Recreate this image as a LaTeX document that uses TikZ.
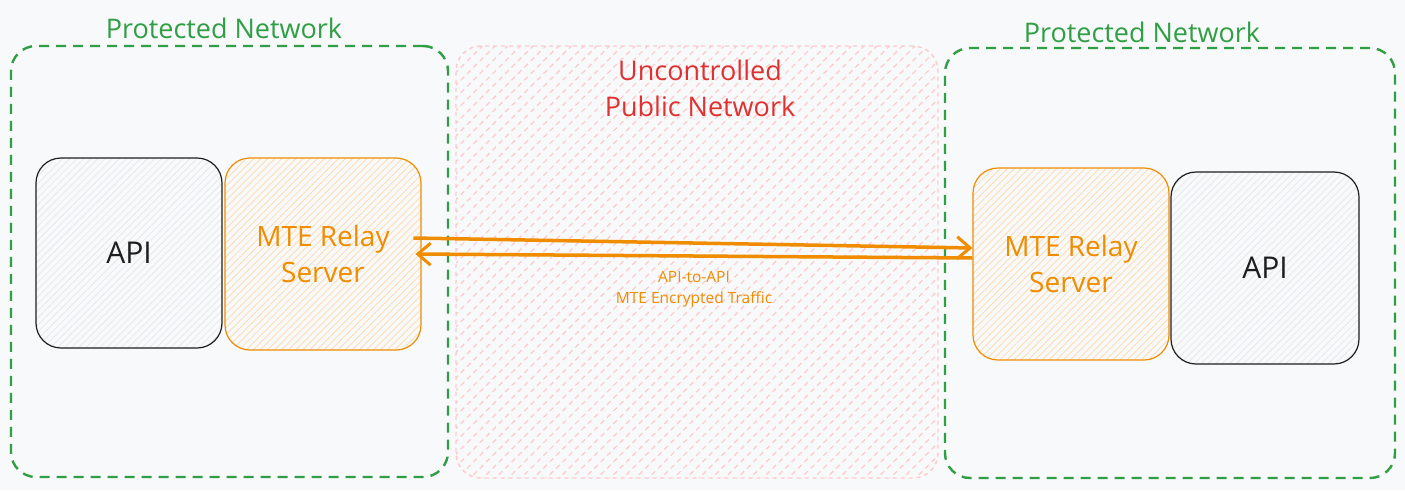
\documentclass[tikz,border=0pt]{standalone}
\usepackage{fontspec}
\setmainfont{Open Sans}
\usepackage{tikz}
\usetikzlibrary{patterns.meta,arrows.meta}

\definecolor{bggray}{HTML}{F8F9FA}
\definecolor{netgreen}{HTML}{2F9E44}
\definecolor{pubred}{HTML}{E03131}
\definecolor{pubhatch}{HTML}{FFC9C9}
\definecolor{relayorange}{HTML}{F08C00}
\definecolor{relayhatch}{HTML}{FFD8A8}
\definecolor{apihatch}{HTML}{E3E5E8}
\definecolor{apiline}{HTML}{1E1E1E}

\begin{document}
\begin{tikzpicture}[x=1pt,y=-1pt,
		zone/.style={rectangle,rounded corners=25pt,line width=2.4pt,
			draw=netgreen,dash pattern=on 10pt off 7pt},
		public/.style={rectangle,rounded corners=25pt,line width=1.4pt,
			draw=pubhatch,dash pattern=on 4pt off 4pt,
			preaction={fill=bggray},
			pattern={Lines[angle=45,distance=9pt,line width=1.2pt]},pattern color=pubhatch},
		apibox/.style={rectangle,rounded corners=25pt,line width=1.2pt,draw=apiline,
			preaction={fill=bggray},
			pattern={Lines[angle=45,distance=5pt,line width=0.6pt]},pattern color=apihatch,
			text=apiline,font=\fontsize{30}{36}\selectfont},
		relay/.style={rectangle,rounded corners=25pt,line width=1.2pt,draw=relayorange,
			preaction={fill=bggray},
			pattern={Lines[angle=45,distance=5pt,line width=0.7pt]},pattern color=relayhatch,
			text=relayorange,align=center,font=\fontsize{28}{36}\selectfont},
		title/.style={font=\fontsize{27}{36}\selectfont},
		traffic/.style={line width=3.5pt,draw=relayorange,
			-{Straight Barb[length=13pt,width=22pt,line width=3pt]}}]
		
		\useasboundingbox[fill=bggray] (0,0) rectangle (1405,490);
		
		% the three networks
		\node[public,minimum width=482pt,minimum height=432pt] (Public) at (697,262) {};
		\node[zone,minimum width=437pt,minimum height=431pt] (LeftNet) at (229.5,261.5) {};
		\node[zone,minimum width=450pt,minimum height=430pt] (RightNet) at (1170,263) {};
		
		\node[title,text=netgreen] (LeftTitle) at (224,28) {Protected Network};
		\node[title,text=netgreen] (RightTitle) at (1142,32) {Protected Network};
		\node[title,text=pubred,align=center] (PublicTitle) at (700,88) {Uncontrolled\\Public Network};
		
		% servers
		\node[apibox,minimum width=186pt,minimum height=190pt] (LeftApi) at (129,253) {API};
		\node[relay,minimum width=196pt,minimum height=192pt] (LeftRelay) at (323,254) {MTE Relay\\Server};
		\node[relay,minimum width=196pt,minimum height=192pt] (RightRelay) at (1071,264) {MTE Relay\\Server};
		\node[apibox,minimum width=188pt,minimum height=192pt] (RightApi) at (1265,268) {API};
		
		% traffic
		\draw[traffic] ([xshift=-8pt,yshift=16pt]LeftRelay.east) -- ([yshift=16pt]RightRelay.west);
		\draw[traffic] ([yshift=6pt]RightRelay.west) -- ([xshift=-6pt]LeftRelay.east);
		\node[text=relayorange,align=center,font=\fontsize{15.5}{21}\selectfont] (Traffic) at (694,289)
			{API-to-API\\MTE Encrypted Traffic};
		
	\end{tikzpicture}
\end{document}
